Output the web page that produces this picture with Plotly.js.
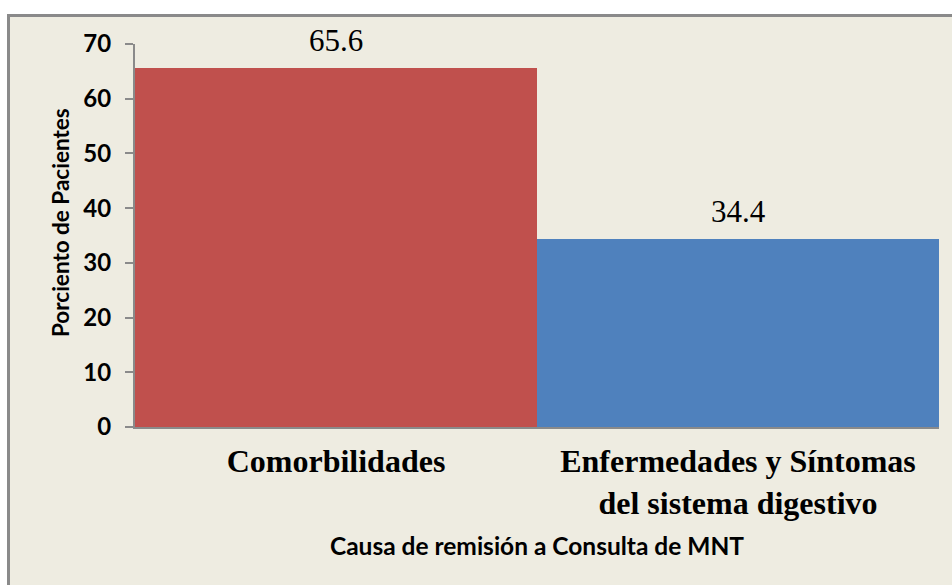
<!DOCTYPE html>
<html>
<head>
<meta charset="utf-8">
<script src="https://cdn.plot.ly/plotly-3.0.1.min.js"></script>
<style>
  html, body { margin: 0; padding: 0; background: #ffffff; width: 952px; height: 585px; overflow: hidden; }
  #frame { position: absolute; left: 7px; top: 14px; width: 960px; height: 600px;
           background: #EEECE1; border-left: 3px solid #8a8a8a; border-top: 3px solid #8a8a8a; }
  #chart { position: absolute; left: 0; top: 0; width: 952px; height: 585px; }
</style>
</head>
<body>
<div id="frame"></div>
<div id="chart"></div>
<script>
const categories = ["Comorbilidades", "Enfermedades y Síntomas<br>del sistema digestivo"];
const values = [65.6, 34.4];
const barColors = ["#C0504D", "#4F81BD"];
const yTickVals = [0, 10, 20, 30, 40, 50, 60, 70];
const xTitle = "Causa de remisión a Consulta de MNT";
const yTitle = "Porciento de Pacientes";

const sansBold = "Lato, 'Open Sans', sans-serif";
const serif = "'Liberation Serif', 'Times New Roman', serif";

const trace = {
  type: "bar",
  x: categories,
  y: values,
  marker: { color: barColors, line: { width: 0 } },
  hoverinfo: "none"
};

const annotations = categories.map((c, i) => ({
  x: c, y: values[i], xref: "x", yref: "y",
  text: values[i].toFixed(1),
  showarrow: false, yanchor: "bottom", yshift: 8,
  font: { family: serif, size: 31, color: "#000" }
}));
annotations.push({
  xref: "paper", yref: "paper", x: -0.0933, y: 0.535,
  text: yTitle, textangle: -90, showarrow: false,
  xanchor: "center", yanchor: "middle",
  font: { family: sansBold, size: 22.5, color: "#000", weight: "bold" }
});

const layout = {
  width: 952, height: 585,
  margin: { l: 135, r: 13, t: 44, b: 158 },
  paper_bgcolor: "rgba(0,0,0,0)",
  plot_bgcolor: "rgba(0,0,0,0)",
  bargap: 0,
  showlegend: false,
  xaxis: {
    type: "category",
    showline: true, linecolor: "#8a8a8a", linewidth: 2,
    ticks: "", showgrid: false, zeroline: false,
    ticklabelstandoff: 5,
    tickfont: { family: serif, size: 32, color: "#000", weight: "bold" },
    title: { text: xTitle, standoff: 18, font: { family: sansBold, size: 24.5, color: "#000", weight: "bold" } }
  },
  yaxis: {
    range: [0, 70], tickvals: yTickVals,
    showline: true, linecolor: "#8a8a8a", linewidth: 2,
    ticks: "outside", ticklen: 8, tickwidth: 2, tickcolor: "#8a8a8a",
    ticklabelstandoff: 9,
    showgrid: false, zeroline: false,
    tickfont: { family: sansBold, size: 24, color: "#000", weight: "bold" }
  },
  annotations: annotations
};

Plotly.newPlot("chart", [trace], layout, { staticPlot: true, displayModeBar: false });
</script>
</body>
</html>
